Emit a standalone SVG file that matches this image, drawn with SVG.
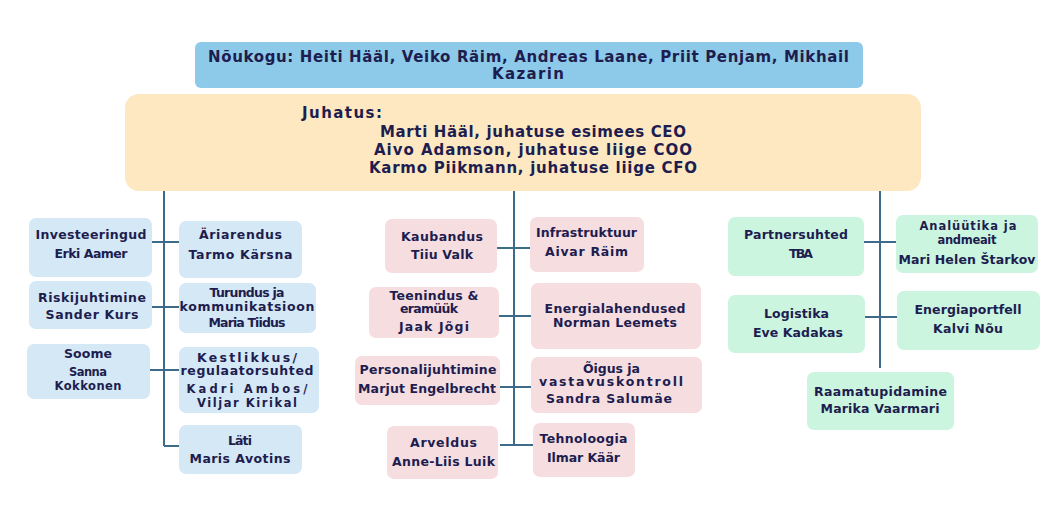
<svg xmlns="http://www.w3.org/2000/svg" width="1063" height="516" viewBox="0 0 1063 516">
<style>
.t{font-family:"DejaVu Sans","Liberation Sans",sans-serif;font-weight:bold;font-size:12.5px;fill:#1d1d4f;text-anchor:middle}
.s{font-size:11.5px}
.h{font-size:15px}
.j{font-size:15px}
.b{fill:#d5e8f5}
.p{fill:#f6dde0}
.g{fill:#ccf5df}
.c{stroke:#3d6b8a;stroke-width:2;fill:none}
</style>
<rect width="1063" height="516" fill="#ffffff"/>
<g id="noukogu">
<rect x="195" y="42" width="668" height="46" rx="6" fill="#8dc9e8"/>
<text class="t h" x="528.5" y="62" textLength="641">Nõukogu: Heiti Hääl, Veiko Räim, Andreas Laane, Priit Penjam, Mikhail</text>
<text class="t h" x="528" y="79" textLength="72">Kazarin</text>
</g>
<g id="juhatus">
<rect x="125" y="94" width="796" height="97" rx="14" fill="#fde8c1"/>
<text class="t j" x="302" y="118" textLength="80" style="text-anchor:start">Juhatus:</text>
<text class="t j" x="533" y="137" textLength="306">Marti Hääl, juhatuse esimees CEO</text>
<text class="t j" x="533" y="155" textLength="318">Aivo Adamson, juhatuse liige COO</text>
<text class="t j" x="533" y="173" textLength="328">Karmo Piikmann, juhatuse liige CFO</text>
</g>
<g id="connectors">
<path class="c" d="M164 191V446M514 191V445M880 191V368"/>
<path class="c" d="M152 242H179M152 307H179M150 370H179M164 446H179"/>
<path class="c" d="M497 248H530M499 316H531M500 387H531M500 445H533"/>
<path class="c" d="M864 242H896M865 317H897"/>
</g>
<g id="investeeringud"><rect class="b" x="29" y="218" width="123" height="59" rx="7"/>
<text class="t" x="91" y="239" textLength="111">Investeeringud</text>
<text class="t" x="91" y="258" textLength="73">Erki Aamer</text></g>
<g id="ariarendus"><rect class="b" x="179" y="221" width="123" height="57" rx="7"/>
<text class="t" x="240.5" y="239" textLength="83">Äriarendus</text>
<text class="t" x="240.5" y="259" textLength="104">Tarmo Kärsna</text></g>
<g id="riskijuhtimine"><rect class="b" x="29" y="281" width="123" height="48" rx="7"/>
<text class="t" x="92" y="302" textLength="108">Riskijuhtimine</text>
<text class="t" x="92" y="319" textLength="93">Sander Kurs</text></g>
<g id="turundus"><rect class="b" x="179" y="283" width="137" height="50" rx="7"/>
<text class="t" x="247" y="297" textLength="75">Turundus ja</text>
<text class="t" x="247" y="311" textLength="135">kommunikatsioon</text>
<text class="t" x="247" y="327" textLength="77">Maria Tiidus</text></g>
<g id="soome"><rect class="b" x="27" y="344" width="123" height="55" rx="7"/>
<text class="t" x="88" y="358" textLength="48">Soome</text>
<text class="t s" x="88" y="376" textLength="38">Sanna</text>
<text class="t s" x="88" y="390" textLength="67">Kokkonen</text></g>
<g id="kestlikkus"><rect class="b" x="179" y="347" width="140" height="66" rx="7"/>
<text class="t" x="247" y="362" textLength="100">Kestlikkus/</text>
<text class="t" x="247" y="375" textLength="133">regulaatorsuhted</text>
<text class="t s" x="247" y="393" textLength="121">Kadri Ambos/</text>
<text class="t s" x="247" y="407" textLength="100">Viljar Kirikal</text></g>
<g id="lati"><rect class="b" x="179" y="425" width="123" height="49" rx="7"/>
<text class="t" x="240" y="445" textLength="24">Läti</text>
<text class="t" x="240" y="463" textLength="101">Maris Avotins</text></g>
<g id="kaubandus"><rect class="p" x="385" y="219" width="112" height="54" rx="7"/>
<text class="t" x="442" y="241" textLength="82">Kaubandus</text>
<text class="t" x="442" y="259" textLength="62">Tiiu Valk</text></g>
<g id="infrastruktuur"><rect class="p" x="530" y="217" width="114" height="55" rx="7"/>
<text class="t" x="586.5" y="237" textLength="101">Infrastruktuur</text>
<text class="t" x="586.5" y="256" textLength="83">Aivar Räim</text></g>
<g id="teenindus"><rect class="p" x="369" y="287" width="130" height="51" rx="7"/>
<text class="t" x="434" y="300" textLength="89">Teenindus &amp;</text>
<text class="t" x="429" y="313" textLength="58">eramüük</text>
<text class="t" x="434" y="331" textLength="70">Jaak Jõgi</text></g>
<g id="energialahendused"><rect class="p" x="531" y="283" width="170" height="66" rx="7"/>
<text class="t" x="615" y="313" textLength="141">Energialahendused</text>
<text class="t" x="615" y="327" textLength="124">Norman Leemets</text></g>
<g id="personalijuhtimine"><rect class="p" x="355" y="356" width="145" height="49" rx="7"/>
<text class="t" x="428" y="374" textLength="137">Personalijuhtimine</text>
<text class="t" x="427" y="393" textLength="138">Marjut Engelbrecht</text></g>
<g id="oigus"><rect class="p" x="531" y="357" width="171" height="56" rx="7"/>
<text class="t" x="611.5" y="373" textLength="57">Õigus ja</text>
<text class="t" x="611" y="386" textLength="144">vastavuskontroll</text>
<text class="t" x="609" y="403" textLength="126">Sandra Salumäe</text></g>
<g id="arveldus"><rect class="p" x="387" y="426" width="111" height="53" rx="7"/>
<text class="t" x="443.5" y="447" textLength="67">Arveldus</text>
<text class="t" x="443.5" y="466" textLength="103">Anne-Liis Luik</text></g>
<g id="tehnoloogia"><rect class="p" x="533" y="423" width="102" height="54" rx="7"/>
<text class="t" x="583.5" y="443" textLength="88">Tehnoloogia</text>
<text class="t" x="583.5" y="462" textLength="73">Ilmar Käär</text></g>
<g id="partnersuhted"><rect class="g" x="728" y="217" width="136" height="59" rx="7"/>
<text class="t" x="796" y="239" textLength="104">Partnersuhted</text>
<text class="t" x="801" y="258" textLength="24">TBA</text></g>
<g id="analuutika"><rect class="g" x="896" y="215" width="142" height="58" rx="7"/>
<text class="t s" x="968" y="230" textLength="97">Analüütika ja</text>
<text class="t s" x="967" y="244" textLength="59">andmeait</text>
<text class="t" x="967" y="264" textLength="137">Mari Helen Štarkov</text></g>
<g id="logistika"><rect class="g" x="728" y="295" width="137" height="58" rx="7"/>
<text class="t" x="796.5" y="318" textLength="65">Logistika</text>
<text class="t" x="798" y="337" textLength="90">Eve Kadakas</text></g>
<g id="energiaportfell"><rect class="g" x="897" y="291" width="143" height="59" rx="7"/>
<text class="t" x="968" y="314" textLength="107">Energiaportfell</text>
<text class="t" x="968" y="333" textLength="70">Kalvi Nõu</text></g>
<g id="raamatupidamine"><rect class="g" x="807" y="372" width="147" height="58" rx="7"/>
<text class="t" x="880.5" y="396" textLength="133">Raamatupidamine</text>
<text class="t" x="880" y="413" textLength="119">Marika Vaarmari</text></g>
</svg>
